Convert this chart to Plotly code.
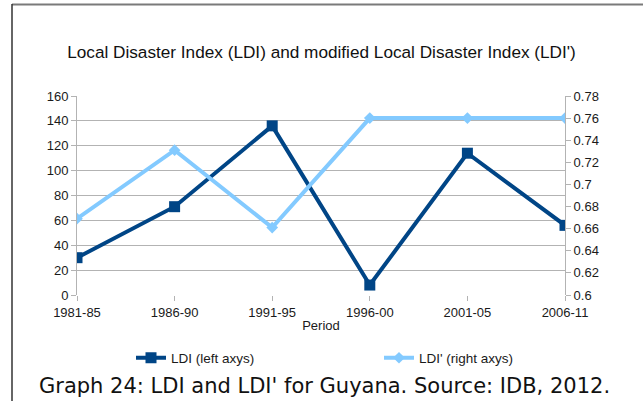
import plotly.graph_objects as go

# Periods and index values
periods = ["1981-85", "1986-90", "1991-95", "1996-00", "2001-05", "2006-11"]
ldi = [30, 71, 136, 8, 114, 56]
ldi_mod = [0.669, 0.731, 0.661, 0.76, 0.76, 0.76]

left_ticks = [0, 20, 40, 60, 80, 100, 120, 140, 160]
right_ticks = [0.6, 0.62, 0.64, 0.66, 0.68, 0.7, 0.72, 0.74, 0.76, 0.78]
right_labels = ["0.6", "0.62", "0.64", "0.66", "0.68", "0.7", "0.72", "0.74", "0.76", "0.78"]

DARK = "#004586"
LIGHT = "#83caff"
GRID = "#b3b3b3"
FONT = "Liberation Sans, Arial, sans-serif"
TXT = "#1a1a1a"

fig = go.Figure()
fig.add_trace(go.Scatter(
    x=periods, y=ldi, name="LDI (left axys)", mode="lines+markers",
    line=dict(color=DARK, width=4),
    marker=dict(symbol="square", size=11, color=DARK),
    yaxis="y", legend="legend",
))
fig.add_trace(go.Scatter(
    x=periods, y=ldi_mod, name="LDI' (right axys)", mode="lines+markers",
    line=dict(color=LIGHT, width=4),
    marker=dict(symbol="diamond", size=9, color=LIGHT),
    yaxis="y2", legend="legend2",
))

legend_common = dict(
    yanchor="middle", y=(295 - 358) / 199, xanchor="left",
    font=dict(family=FONT, size=13.5, color=TXT),
    itemwidth=30, bgcolor="rgba(0,0,0,0)",
)

fig.update_layout(
    width=643, height=401,
    margin=dict(l=77, r=78, t=96, b=106),
    paper_bgcolor="white", plot_bgcolor="white",
    font=dict(family=FONT, size=13, color=TXT),
    title=dict(
        text="Local Disaster Index (LDI) and modified Local Disaster Index (LDI')",
        font=dict(family=FONT, size=17.2, color="#111"),
        x=0.5, xanchor="center", y=1 - 52 / 401, yanchor="middle",
    ),
    xaxis=dict(
        type="category", range=[0, 5],
        showgrid=False, showline=False, zeroline=False,
        ticks="outside", ticklen=5, tickcolor=GRID,
        tickfont=dict(size=13, color=TXT),
        title=dict(text="Period", font=dict(size=13, color=TXT), standoff=2),
    ),
    yaxis=dict(
        range=[0, 160], tickvals=left_ticks,
        showgrid=True, gridcolor=GRID, gridwidth=1,
        showline=True, linecolor=GRID, linewidth=1,
        zeroline=False,
        ticks="outside", ticklen=5, tickcolor=GRID,
        tickfont=dict(size=13, color=TXT),
    ),
    yaxis2=dict(
        range=[0.6, 0.78], tickvals=right_ticks, ticktext=right_labels,
        overlaying="y", side="right",
        showgrid=False, showline=True, linecolor=GRID, linewidth=1,
        zeroline=False,
        ticks="outside", ticklen=5, tickcolor=GRID,
        tickfont=dict(size=13, color=TXT),
    ),
    legend=dict(x=(131 - 77) / 488, **legend_common),
    legend2=dict(x=(379 - 77) / 488, **legend_common),
    showlegend=True,
)

# Frame lines around the chart block
fig.add_shape(type="line", xref="paper", yref="paper",
              x0=(12 - 77) / 488, x1=(645 - 77) / 488,
              y0=(295 - 4.5) / 199, y1=(295 - 4.5) / 199,
              line=dict(color="#7a7a7a", width=2))
fig.add_shape(type="line", xref="paper", yref="paper",
              x0=(12 - 77) / 488, x1=(12 - 77) / 488,
              y0=(295 - 4) / 199, y1=(295 - 402) / 199,
              line=dict(color="#333333", width=1.5))

# Caption under the chart
fig.add_annotation(
    text="Graph 24: LDI and LDI' for Guyana. Source: IDB, 2012.",
    xref="paper", yref="paper",
    x=(324 - 77) / 488, y=(295 - 386) / 199,
    xanchor="center", yanchor="middle", showarrow=False,
    font=dict(family="DejaVu Sans, sans-serif", size=21, color="#111"),
)

fig.write_html("out.html")
